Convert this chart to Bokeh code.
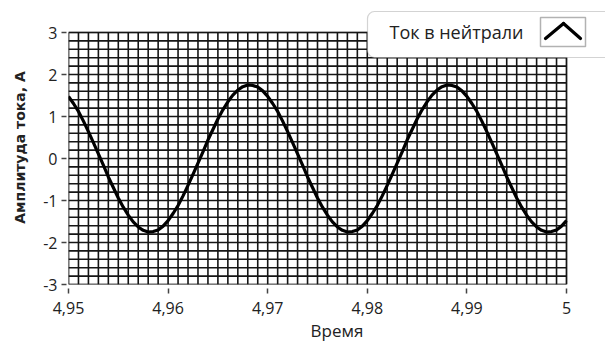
from bokeh.plotting import figure
from bokeh.models import FixedTicker, Label, Arrow, BoxAnnotation
from bokeh.embed import file_html
from bokeh.resources import INLINE

current = [
    1.48, 1.31, 1.12, 0.89, 0.64, 0.38, 0.11, -0.16, -0.44, -0.69,
    -0.94, -1.16, -1.35, -1.51, -1.63, -1.71, -1.75, -1.74, -1.70, -1.61,
    -1.48, -1.31, -1.12, -0.89, -0.64, -0.38, -0.11, 0.16, 0.44, 0.69,
    0.94, 1.16, 1.35, 1.51, 1.63, 1.71, 1.75, 1.74, 1.70, 1.61,
    1.48, 1.31, 1.12, 0.89, 0.64, 0.38, 0.11, -0.16, -0.44, -0.69,
    -0.94, -1.16, -1.35, -1.51, -1.63, -1.71, -1.75, -1.74, -1.70, -1.61,
    -1.48, -1.31, -1.12, -0.89, -0.64, -0.38, -0.11, 0.16, 0.44, 0.69,
    0.94, 1.16, 1.35, 1.51, 1.63, 1.71, 1.75, 1.74, 1.70, 1.61,
    1.48, 1.31, 1.12, 0.89, 0.64, 0.38, 0.11, -0.16, -0.44, -0.69,
    -0.94, -1.16, -1.35, -1.51, -1.63, -1.71, -1.75, -1.74, -1.70, -1.61,
    -1.48,
]
t_start = 4.95
t_step = 0.0005
time = [round(t_start + t_step * i, 4) for i in range(len(current))]

x_ticks = [4.95, 4.96, 4.97, 4.98, 4.99, 5.0]
x_tick_labels = ["4,95", "4,96", "4,97", "4,98", "4,99", "5"]
y_ticks = [-3, -2, -1, 0, 1, 2, 3]
y_tick_labels = ["-3", "-2", "-1", "0", "1", "2", "3"]
x_grid_ticks = [round(4.95 + 0.001 * i, 3) for i in range(51)]
y_grid_ticks = [round(-3 + 0.2 * i, 1) for i in range(31)]

legend_text = "Ток в нейтрали"
x_title = "Время"
y_title = "Амплитуда тока, А"

FONT = "Open Sans"
TEXT = "#222222"

# layout (pixels)
W, H = 605, 345
LEFT, RIGHT_DATA, TOP_FRAME, TOP_DATA, BOTTOM = 68, 566, 10, 32, 284
x0, x1 = x_ticks[0], x_ticks[-1]
y0, y1 = y_ticks[0], y_ticks[-1]
# the frame extends beyond the data box (to the right and top) so the legend can be drawn there
x_end = x0 + (x1 - x0) * (W - LEFT) / (RIGHT_DATA - LEFT)
y_end = y0 + (y1 - y0) * (BOTTOM - TOP_FRAME) / (BOTTOM - TOP_DATA)

p = figure(width=W, height=H, x_range=(x0, x_end), y_range=(y0, y_end),
           output_backend="svg", toolbar_location=None,
           min_border_left=LEFT, min_border_right=0,
           min_border_top=TOP_FRAME, min_border_bottom=H - BOTTOM,
           background_fill_color="white", border_fill_color="white")
p.outline_line_color = None
p.xgrid.visible = False
p.ygrid.visible = False

# grid drawn only inside the data box
GRID = "#151515"
p.segment(x0=x_grid_ticks, y0=[y0] * len(x_grid_ticks),
          x1=x_grid_ticks, y1=[y1] * len(x_grid_ticks),
          line_color=GRID, line_width=1.6)
p.segment(x0=[x0] * len(y_grid_ticks), y0=y_grid_ticks,
          x1=[x1] * len(y_grid_ticks), y1=y_grid_ticks,
          line_color=GRID, line_width=1.6)
p.add_layout(BoxAnnotation(left=x0, right=x1, bottom=y0, top=y1,
                           fill_alpha=0, line_color="#3c3c3c", line_width=1.8,
                           level="underlay"))

# axes
p.xaxis.ticker = FixedTicker(ticks=x_ticks)
p.yaxis.ticker = FixedTicker(ticks=y_ticks)
p.xaxis.major_label_overrides = dict(zip(x_ticks, x_tick_labels))
p.yaxis.major_label_overrides = dict(zip(y_ticks, y_tick_labels))
for ax in (p.xaxis, p.yaxis):
    ax.axis_line_color = None
    ax.minor_tick_line_color = None
    ax.major_tick_line_color = "#444444"
    ax.major_tick_line_width = 1.5
    ax.major_label_text_font = FONT
    ax.major_label_text_font_size = "16px"
    ax.major_label_text_color = TEXT
p.xaxis.major_tick_in = -4
p.xaxis.major_tick_out = 9
p.yaxis.major_tick_in = -2
p.yaxis.major_tick_out = 7
p.xaxis.major_label_standoff = 8
p.yaxis.major_label_standoff = 4

p.xaxis.axis_label = x_title
p.xaxis.axis_label_text_font = FONT
p.xaxis.axis_label_text_font_size = "17px"
p.xaxis.axis_label_text_font_style = "normal"
p.xaxis.axis_label_text_color = TEXT
p.xaxis.axis_label_standoff = 2

p.yaxis.axis_label = y_title
p.yaxis.axis_label_text_font = "DejaVu Sans"
p.yaxis.axis_label_text_font_size = "14px"
p.yaxis.axis_label_text_font_style = "bold"
p.yaxis.axis_label_text_color = TEXT
p.yaxis.axis_label_standoff = 12

# curve
p.line(time, current, line_width=3.2, line_color="black", line_join="round")

# legend (annotations in screen units, relative to the frame's bottom-left)
box = BoxAnnotation(left=299, right=560, top=273, bottom=227,
                    left_units="screen", right_units="screen",
                    top_units="screen", bottom_units="screen",
                    fill_color="white", fill_alpha=1.0,
                    line_color="#6e6e6e", line_width=1.2,
                    border_radius=(7, 0, 0, 7), level="overlay")
p.add_layout(box)
p.add_layout(Label(x=321, y=253, x_units="screen", y_units="screen",
                   text=legend_text, text_font=FONT, text_font_size="18px",
                   text_color=TEXT, text_baseline="middle", text_align="left",
                   level="overlay"))
icon = BoxAnnotation(left=472, right=517, top=267, bottom=238,
                     left_units="screen", right_units="screen",
                     top_units="screen", bottom_units="screen",
                     fill_alpha=0, line_color="black", line_width=1.5,
                     level="overlay")
p.add_layout(icon)
for xs, ys, xe, ye in ((477, 246, 495, 261), (495, 261, 512, 246)):
    p.add_layout(Arrow(end=None, x_start=xs, y_start=ys, x_end=xe, y_end=ye,
                       start_units="screen", end_units="screen",
                       line_color="black", line_width=3.2, line_cap="round",
                       level="overlay"))

open("out.html", "w").write(file_html(p, INLINE))
